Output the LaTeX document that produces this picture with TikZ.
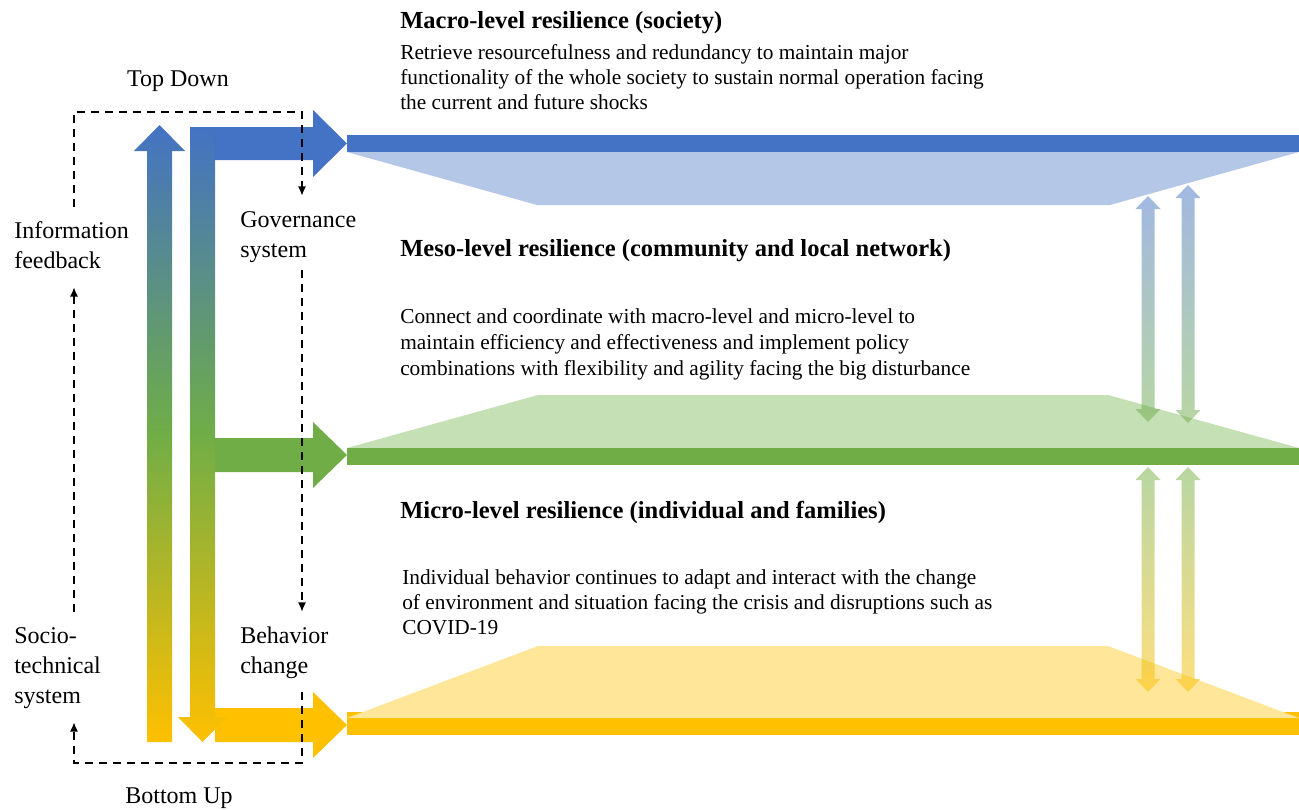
\documentclass[tikz,border=0pt]{standalone}
\usepackage{fontspec}
\setmainfont{Liberation Serif}
\usetikzlibrary{arrows.meta}

\definecolor{lvblue}{HTML}{4472C4}
\definecolor{lvgreen}{HTML}{70AD47}
\definecolor{lvyellow}{HTML}{FFC000}
\definecolor{lvbluelt}{HTML}{B4C7E7}
\definecolor{lvgreenlt}{HTML}{C5E0B4}
\definecolor{lvyellowlt}{HTML}{FFE699}

% two-headed vertical arrow: style, centre x, upper tip y, lower tip y
\newcommand\twoway[4]{%
  \path[#1] (#2,#3) -- ({#2+12.5},{#3+13}) -- ({#2+6.5},{#3+13})
    -- ({#2+6.5},{#4-13}) -- ({#2+12.5},{#4-13}) -- (#2,#4)
    -- ({#2-12.5},{#4-13}) -- ({#2-6.5},{#4-13}) -- ({#2-6.5},{#3+13})
    -- ({#2-12.5},{#3+13}) -- cycle;}

\begin{document}
\begin{tikzpicture}[x=0.75pt,y=-0.75pt,
  txt/.style={inner sep=0pt, anchor=base west, text=black},
  head/.style={txt, font=\fontsize{18.4}{22}\selectfont\bfseries},
  body/.style={txt, font=\fontsize{16}{18.75}\selectfont},
  lab/.style={inner xsep=0pt, inner ysep=7.5pt, anchor=base west,
              font=\fontsize{18}{22.5}\selectfont},
  flow/.style={top color=lvblue, bottom color=lvyellow, middle color=lvgreen},
  upper/.style={top color=lvblue, bottom color=lvgreen, fill opacity=0.5},
  lower/.style={top color=lvgreen, bottom color=lvyellow, fill opacity=0.5},
  fb/.style={line width=1.1pt, dash pattern=on 6pt off 4.5pt,
             -{Latex[length=7pt,width=6pt]}}]

\useasboundingbox (0,0) rectangle (1299,810);

% ---- resilience levels: bars and planes
\fill[lvbluelt] (347,152) -- (537,205) -- (1110,205) -- (1299,152) -- cycle;
\fill[lvblue] (347,135) rectangle (1299,152);

\fill[lvgreenlt] (347,448) -- (538,395) -- (1108,395) -- (1299,448) -- cycle;
\fill[lvgreen] (347,448) rectangle (1299,465);

\fill[lvyellow] (347,712) rectangle (1299,735);
\fill[lvyellowlt] (347,718) -- (538,646) -- (1108,646) -- (1299,718) -- cycle;

% ---- interactions between levels
\twoway{upper}{1148}{196}{422}
\twoway{upper}{1188}{185}{423}
\twoway{lower}{1148}{467}{692}
\twoway{lower}{1188}{467}{692}

% ---- horizontal arrows feeding each level
\fill[lvblue] (215,127) -- (313,127) -- (313,110) -- (347,143.5)
  -- (313,177) -- (313,160) -- (215,160) -- cycle;
\fill[lvgreen] (215,438) -- (313,438) -- (313,422) -- (347,455)
  -- (313,488) -- (313,472) -- (215,472) -- cycle;
\fill[lvyellow] (215,708) -- (313,708) -- (313,692) -- (347,725)
  -- (313,758) -- (313,742) -- (215,742) -- cycle;

% ---- bottom-up and top-down arrows
\path[flow] (147,742) -- (147,151) -- (134,151) -- (159.5,125)
  -- (185,151) -- (172,151) -- (172,742) -- cycle;
\path[flow] (190,127) -- (215,127) -- (215,717) -- (227,717)
  -- (202.5,742) -- (178,717) -- (190,717) -- cycle;

% ---- level descriptions
\node[head] (macrohead) at (400,28) {Macro-level resilience (society)};
\node[body] (macrotext) at (400,59) {\begin{tabular}[t]{@{}l@{}}
  Retrieve resourcefulness and redundancy to maintain major\\
  functionality of the whole society to sustain normal operation facing\\
  the current and future shocks\end{tabular}};

\node[head] (mesohead) at (400,256) {Meso-level resilience (community and local network)};
\node[body, font=\fontsize{16}{19.5}\selectfont] (mesotext) at (400,323) {\begin{tabular}[t]{@{}l@{}}
  Connect and coordinate with macro-level and micro-level to\\
  maintain efficiency and effectiveness and implement policy\\
  combinations with flexibility and agility facing the big disturbance\end{tabular}};

\node[head] (microhead) at (400,518) {Micro-level resilience (individual and families)};
\node[body] (microtext) at (402,584) {\begin{tabular}[t]{@{}l@{}}
  Individual behavior continues to adapt and interact with the change\\
  of environment and situation facing the crisis and disruptions such as\\
  COVID-19\end{tabular}};

% ---- feedback loop labels
\node[lab, anchor=base] (topdown) at (178,86) {Top Down};
\node[lab, anchor=base] (bottomup) at (179,803) {Bottom Up};
\node[lab] (info) at (14,238) {\begin{tabular}[t]{@{}l@{}}Information\\ feedback\end{tabular}};
\node[lab] (gov) at (240,227) {\begin{tabular}[t]{@{}l@{}}Governance\\ system\end{tabular}};
\node[lab] (soc) at (14,643) {\begin{tabular}[t]{@{}l@{}}Socio-\\ technical\\ system\end{tabular}};
\node[lab] (beh) at (240,643) {\begin{tabular}[t]{@{}l@{}}Behavior\\ change\end{tabular}};

% ---- dashed feedback loop
\coordinate (lx) at (74,0);
\coordinate (rx) at (302,0);
\coordinate (ytop) at (0,112);
\coordinate (ybot) at (0,763);
\draw[fb] (info.north -| lx) -- (lx |- ytop) -- (rx |- ytop) -- (gov.north -| rx);
\draw[fb, shorten <=-4.5pt] (gov.south -| rx) -- (beh.north -| rx);
\draw[fb] (beh.south -| rx) -- (rx |- ybot) -- (lx |- ybot) -- (soc.south -| lx);
\draw[fb] (soc.north -| lx) -- (info.south -| lx);
\end{tikzpicture}
\end{document}
